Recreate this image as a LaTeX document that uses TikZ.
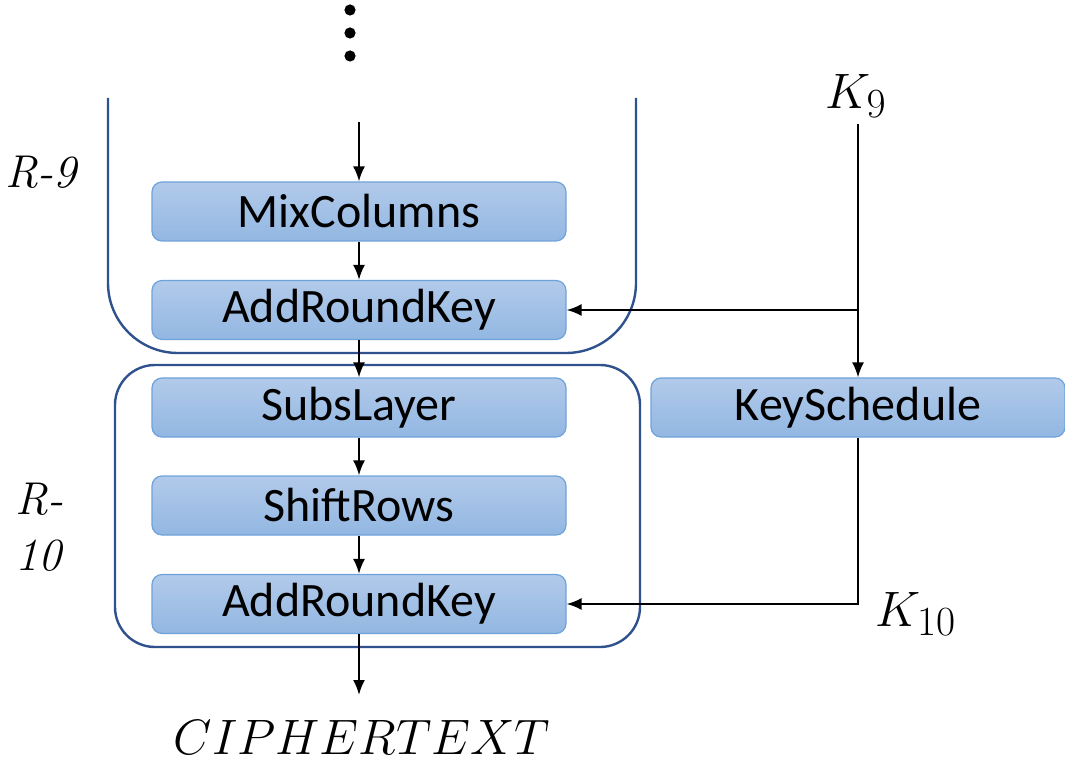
\documentclass[tikz,border=0pt]{standalone}
\usepackage{fontspec}
\newfontfamily\calibri{Carlito}
\usetikzlibrary{positioning, arrows.meta}
\definecolor{boxtop}{RGB}{178,202,234}
\definecolor{boxbot}{RGB}{146,183,226}
\definecolor{boxline}{RGB}{112,162,218}
\definecolor{roundline}{RGB}{47,82,143}

\begin{document}
\begin{tikzpicture}[x=0.5pt, y=-0.5pt, >={Latex[length=7.5pt,width=6pt]}, line width=1pt,
            layer/.style ={rectangle, rounded corners=5pt, top color=boxtop, bottom color=boxbot,
            draw=boxline, line width=0.6pt, minimum width=207pt, minimum height=29.5pt, inner sep=0pt,
            font=\calibri\fontsize{24}{28}\selectfont},
            rnd/.style ={draw=roundline, line width=1.2pt},
            lbl/.style ={font=\fontsize{23}{28}\selectfont\itshape, inner sep=0pt},
            key/.style ={font=\fontsize{29}{32}\selectfont, inner sep=0pt}]

        \useasboundingbox (0,0) rectangle (1065,764);

        % round frames
        \draw[rnd, rounded corners=35pt] (108,98) -- (108,353) -- (636,353) -- (636,98);
        \draw[rnd, rounded corners=20pt] (115,365) rectangle (640,647);

        % dots
        \fill (350,10) circle (2.8pt);
        \fill (350,33) circle (2.8pt);
        \fill (350,56) circle (2.8pt);

        \node[layer] (mix) at (359,211.5) {MixColumns};
        \node[layer] (ark9) at (359,310) {AddRoundKey};
        \node[layer] (subs) at (359,407.5) {SubsLayer};
        \node[layer] (shift) at (359,505.5) {ShiftRows};
        \node[layer] (ark10) at (359,604) {AddRoundKey};
        \node[layer] (keys) at (858,407.5) {KeySchedule};

        \node[lbl] (r9) at (41,172) {R-9};
        \node[lbl, anchor=west, align=left] (r10) at (14,527) {R-\\10};

        \node[key] (k9) at (856,96) {$K_9$};
        \node[key] (k10) at (916,614) {$K_{10}$};
        \node[key] (ct) at (362,737) {$CIPHERTEXT$};

        \coordinate (in9) at (359,122);
        \coordinate (k9top) at (858,124);
        \coordinate (k9j) at (858,310);
        \coordinate (k10j) at (858,604);
        \coordinate (out) at (359,695);

        \path (in9) edge [->] (mix);
        \path (mix) edge [->] (ark9);
        \path (ark9) edge [->] (subs);
        \path (subs) edge [->] (shift);
        \path (shift) edge [->] (ark10);
        \path (ark10) edge [->] (out);

        \path (k9top) edge [->] (keys);
        \path (k9j) edge [->] (ark9);
        \draw[->] (keys.south) -- (k10j) -- (ark10.east);

    \end{tikzpicture}
\end{document}
